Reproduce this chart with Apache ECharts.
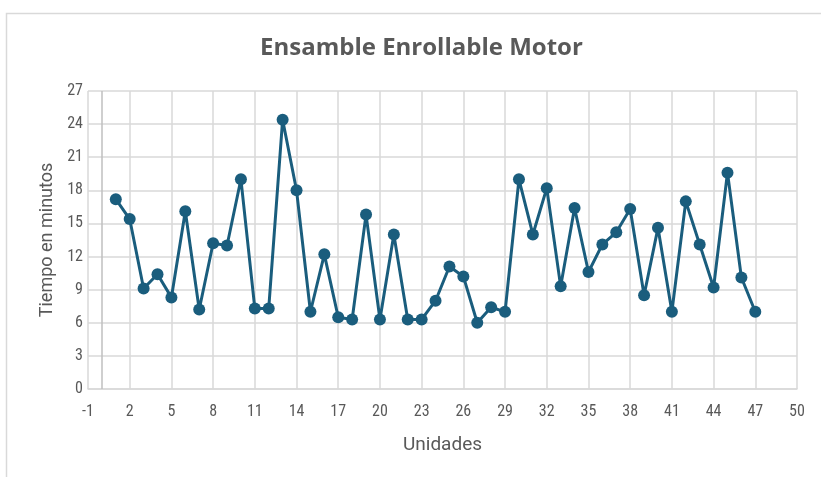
<!DOCTYPE html>
<html>
<head>
<meta charset="utf-8">
<script src="https://cdn.jsdelivr.net/npm/echarts@6/dist/echarts.min.js"></script>
<style>
  html, body { margin: 0; padding: 0; background: #fff; }
  #chart { width: 821px; height: 477px; }
</style>
</head>
<body>
<div id="chart"></div>
<script>
// Minutes spent assembling each motor roll-up unit
const units = [1,2,3,4,5,6,7,8,9,10,11,12,13,14,15,16,17,18,19,20,21,22,23,24,25,26,27,28,29,30,31,32,33,34,35,36,37,38,39,40,41,42,43,44,45,46,47];
const minutes = [17.2,15.4,9.1,10.4,8.3,16.1,7.2,13.2,13.0,19.0,7.3,7.3,24.4,18.0,7.0,12.2,6.5,6.3,15.8,6.3,14.0,6.3,6.3,8.0,11.1,10.2,6.0,7.4,7.0,19.0,14.0,18.2,9.3,16.4,10.6,13.1,14.2,16.3,8.5,14.6,7.0,17.0,13.1,9.2,19.6,10.1,7.0];

const chartTitle = 'Ensamble Enrollable Motor';
const xName = 'Unidades';
const yName = 'Tiempo en minutos';

const textColor = '#595959';
const gridColor = '#d9d9d9';
const lineColor = '#1a5d7d';
const narrowFont = '"Liberation Sans Narrow", "Roboto Condensed", "Liberation Sans", sans-serif';
const wideFont = 'Roboto, "Liberation Sans", sans-serif';
const titleFont = '"Open Sans", Roboto, sans-serif';

const points = units.map((u, i) => [u, minutes[i]]);

const chart = echarts.init(document.getElementById('chart'));
chart.setOption({
  animation: false,
  backgroundColor: '#fff',
  graphic: [{
    type: 'rect',
    shape: { x: 6.5, y: 13.5, width: 900, height: 600 },
    style: { fill: 'none', stroke: gridColor, lineWidth: 1.5 },
    silent: true
  }],
  title: {
    text: chartTitle,
    left: 255,
    top: 31,
    textStyle: { color: textColor, fontSize: 24, fontWeight: 'bold', fontFamily: titleFont }
  },
  grid: { left: 88, right: 24, top: 91, bottom: 88 },
  xAxis: {
    type: 'value',
    min: -1, max: 50, interval: 3,
    name: xName,
    nameLocation: 'middle',
    nameGap: 47,
    nameTextStyle: { color: textColor, fontSize: 19, fontFamily: wideFont },
    axisLine: { show: true, lineStyle: { color: gridColor, width: 1.5 } },
    axisTick: { show: false },
    axisLabel: { color: textColor, fontSize: 16, margin: 15, fontFamily: narrowFont },
    splitLine: { show: true, lineStyle: { color: gridColor, width: 1.5 } }
  },
  yAxis: {
    type: 'value',
    min: 0, max: 27, interval: 3,
    name: yName,
    nameLocation: 'middle',
    nameGap: 31,
    nameTextStyle: { color: textColor, fontSize: 18, fontFamily: wideFont },
    axisLine: { show: false, onZero: false },
    axisTick: { show: false },
    axisLabel: { color: textColor, fontSize: 16, margin: 5, fontFamily: narrowFont },
    splitLine: { show: true, lineStyle: { color: gridColor, width: 1.5 } }
  },
  series: [{
    type: 'line',
    data: points,
    symbol: 'circle',
    symbolSize: 12,
    itemStyle: { color: lineColor },
    lineStyle: { color: lineColor, width: 3 },
    markLine: {
      silent: true,
      symbol: 'none',
      label: { show: false },
      lineStyle: { color: '#bfbfbf', width: 1.5, type: 'solid' },
      data: [{ xAxis: 0 }]
    },
    z: 3
  }]
});
</script>
</body>
</html>
